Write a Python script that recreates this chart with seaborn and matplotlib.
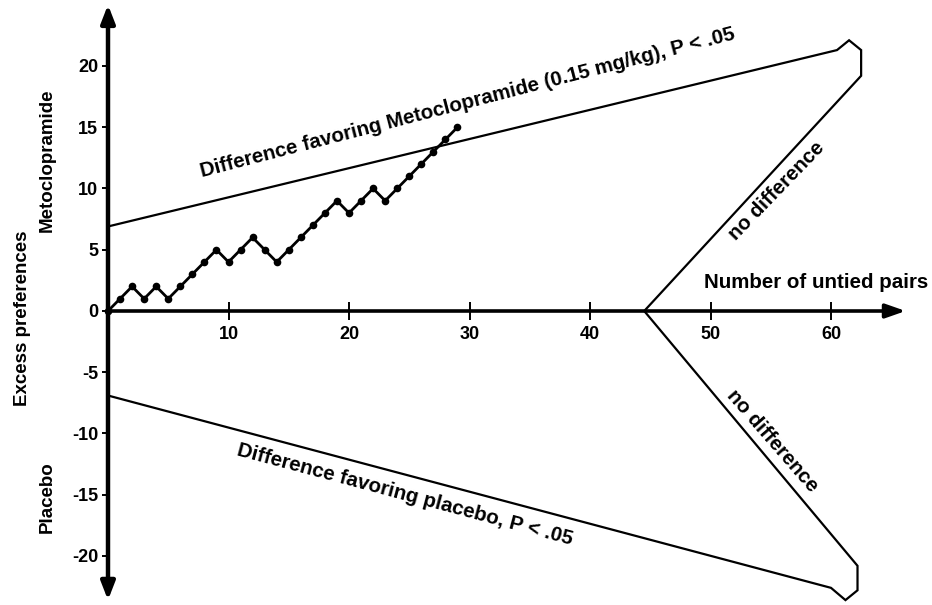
import numpy as np
import pandas as pd
import matplotlib
matplotlib.use("Agg")
import matplotlib.pyplot as plt
import seaborn as sns

# sequential analysis path: excess preferences vs number of untied pairs
pairs = list(range(0, 30))
excess = [0, 1, 2, 1, 2, 1, 2, 3, 4, 5, 4, 5, 6, 5, 4, 5, 6, 7, 8, 9,
          8, 9, 10, 9, 10, 11, 12, 13, 14, 15]

# boundary polylines
upper_x = [0, 60.5, 61.5, 62.5, 62.5, 44.5]
upper_y = [6.9, 21.3, 22.1, 21.3, 19.2, 0]
lower_x = [0, 60.0, 61.2, 62.2, 62.2, 44.5]
lower_y = [-6.9, -22.6, -23.6, -22.8, -20.8, 0]

xticks = [10, 20, 30, 40, 50, 60]
yticks = [20, 15, 10, 5, 0, -5, -10, -15, -20]

sns.set_theme(style="white")
plt.rcParams['font.family'] = ['Liberation Sans', 'DejaVu Sans']
plt.rcParams['font.weight'] = 'bold'
plt.rcParams['axes.unicode_minus'] = False

fig = plt.figure(figsize=(9.32, 6.05), dpi=100)
ax = fig.add_axes([0, 0, 1, 1])

px_x, px_y = 12.05, 12.25
ax.set_xlim(-108 / px_x, (932 - 108) / px_x)
ax.set_ylim((311 - 605) / px_y, 311 / px_y)

for s in ['top', 'right', 'left', 'bottom']:
    ax.spines[s].set_visible(False)
ax.spines['left'].set_position(('data', 0))
ax.spines['bottom'].set_position(('data', 0))

# axes drawn as arrows
ax.annotate("", xy=(0, 25.0), xytext=(0, -23.6),
            arrowprops=dict(arrowstyle="<|-|>,head_length=0.9,head_width=0.35",
                            color="black", lw=3.2, shrinkA=0, shrinkB=0))
ax.annotate("", xy=(66.2, 0), xytext=(0, 0),
            arrowprops=dict(arrowstyle="-|>,head_length=1.0,head_width=0.35",
                            color="black", lw=2.6, shrinkA=0, shrinkB=0))

ax.set_xticks(xticks)
ax.set_yticks(yticks)
ax.set_yticklabels([str(v) for v in yticks])
ax.tick_params(axis='x', direction='inout', length=13, width=1.4, pad=4,
               labelsize=13, colors='black', bottom=True)
ax.tick_params(axis='y', direction='out', length=4, width=1.4, pad=3,
               labelsize=13, colors='black', left=True)
for lab in ax.get_xticklabels() + ax.get_yticklabels():
    lab.set_fontweight('bold')
ax.grid(False)

# boundaries
ax.plot(upper_x, upper_y, color='black', lw=1.6, solid_joinstyle='miter')
ax.plot(lower_x, lower_y, color='black', lw=1.6, solid_joinstyle='miter')

# observed path
df = pd.DataFrame({'pairs': pairs, 'excess': excess})
sns.lineplot(data=df, x='pairs', y='excess', ax=ax, color='black', lw=2,
             marker='o', markersize=5.5, markeredgewidth=0, sort=False)
ax.set_xlabel('')
ax.set_ylabel('')

txt = dict(fontsize=14.8, fontweight='bold', color='black', ha='center', va='center')
ax.text(29.8, 17.0, 'Difference favoring Metoclopramide (0.15 mg/kg), P < .05',
        rotation=14.5, **txt)
ax.text(24.6, -15.0, 'Difference favoring placebo, P < .05', rotation=-15, **txt)
ax.text(55.5, 9.8, 'no difference', rotation=46, **txt)
ax.text(55.1, -10.6, 'no difference', rotation=-49, **txt)
ax.text(58.8, 2.3, 'Number of untied pairs', **txt)
lab = dict(fontsize=13.5, fontweight='bold', color='black', ha='center', va='center')
ax.text(-7.1, -0.6, 'Excess preferences', rotation=90, **lab)
ax.text(-5.06, 12.3, 'Metoclopramide', rotation=90, **lab)
ax.text(-5.06, -15.2, 'Placebo', rotation=90, **lab)

fig.savefig('out.png', dpi=100)
